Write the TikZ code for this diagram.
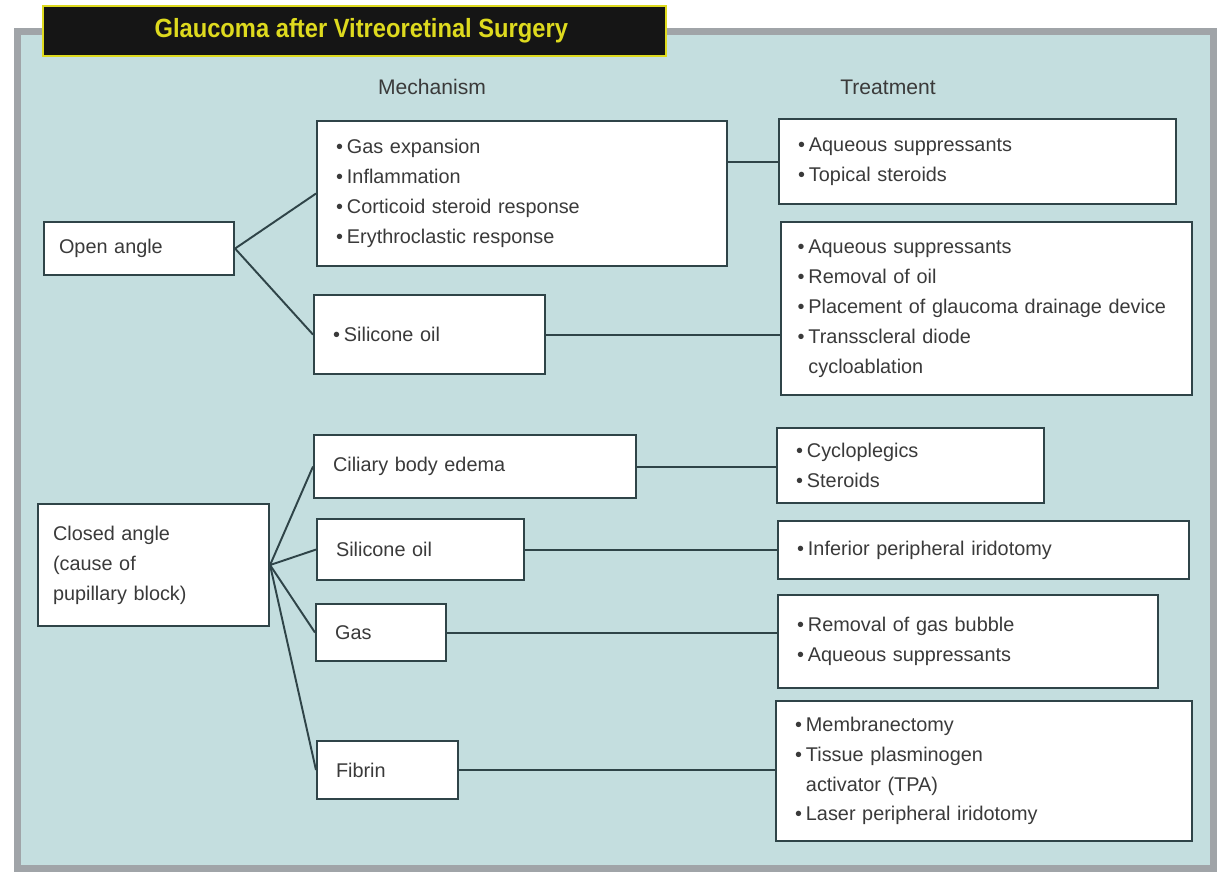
\documentclass[tikz,border=0pt]{standalone}
\usepackage{fontspec}
\setmainfont{Liberation Sans}
\newfontfamily\titlefont[FakeStretch=0.9]{Liberation Sans}
\usetikzlibrary{positioning}
\definecolor{cpanel}{RGB}{196, 222, 223}
\definecolor{cframe}{RGB}{160, 164, 168}
\definecolor{cline}{RGB}{47, 68, 72}
\definecolor{ctext}{RGB}{58, 58, 58}
\definecolor{ctitle}{RGB}{222, 218, 30}
\definecolor{ctitlebg}{RGB}{21, 21, 21}
\newcommand{\bul}{\textbullet\hspace{0.2em}}
\newcommand{\cont}{\phantom{\textbullet}\hspace{0.2em}}
\hyphenpenalty=10000
\tikzset{
	nodes={text=ctext, font={\fontsize{11.3}{17}\selectfont}},%
	box/.style={%
			draw=cline,%
			fill=white,%
			line width=1.2pt,%
			anchor=north west,%
			align=left,%
			inner xsep=0.38cm,%
			inner ysep=0pt},%
	headbox/.style={%
			box,%
			inner xsep=0.3cm},%
	conn/.style={%
			draw=cline,%
			line width=1.1pt},%
	colhead/.style={%
			font={\fontsize{12}{14}\selectfont}},%
}

\begin{document}
\begin{tikzpicture}[x=0.02cm, y=-0.02cm]%
	\useasboundingbox (0,0) rectangle (1217,872);
	\fill[white] (0,0) rectangle (1217,872);
	\draw[cframe, fill=cpanel, line width=0.14cm] (17.5,31.5) rectangle (1213,868.5);

	\node[fill=ctitlebg, draw=ctitle, line width=1pt, minimum width=12.46cm, minimum height=1cm, anchor=north west,
		text=ctitle, font={\titlefont\bfseries\fontsize{15}{17}\selectfont}] (title) at (42,5) {\hspace*{0.28cm}Glaucoma after Vitreoretinal Surgery};

	\node[colhead] (hmech) at (432,87) {Mechanism};
	\node[colhead] (htreat) at (888,87) {Treatment};

	% open angle branch
	\node[headbox, text width=3.2cm, minimum height=1.06cm] (open) at (43,221) {Open angle};
	\node[box, text width=7.44cm, minimum height=2.9cm] (mgas) at (316,120) {\bul Gas expansion\\\bul Inflammation\\\bul Corticoid steroid response\\\bul Erythroclastic response};
	\node[box, text width=3.86cm, minimum height=1.58cm] (msil) at (313,294) {\bul Silicone oil};
	\node[box, text width=7.18cm, minimum height=1.7cm] (tsupp) at (778,118) {\bul Aqueous suppressants\\\bul Topical steroids};
	\node[box, text width=7.56cm, minimum height=3.46cm, inner xsep=0.33cm] (toil) at (780,221) {\bul Aqueous suppressants\\\bul Removal of oil\\\bul Placement of glaucoma drainage device\\\bul Transscleral diode\\\cont cycloablation};

	% closed angle branch
	\node[headbox, text width=4.02cm, minimum height=2.44cm] (closed) at (37,503) {Closed angle\\(cause of\\pupillary block)};
	\node[box, text width=5.68cm, minimum height=1.26cm] (mcil) at (313,434) {Ciliary body edema};
	\node[box, text width=3.38cm, minimum height=1.22cm] (msil2) at (316,518) {Silicone oil};
	\node[box, text width=1.84cm, minimum height=1.14cm] (mgas2) at (315,603) {Gas};
	\node[box, text width=2.06cm, minimum height=1.16cm] (mfib) at (316,740) {Fibrin};
	\node[box, text width=4.58cm, minimum height=1.5cm] (tcyc) at (776,427) {\bul Cycloplegics\\\bul Steroids};
	\node[box, text width=7.46cm, minimum height=1.16cm] (tiri) at (777,520) {\bul Inferior peripheral iridotomy};
	\node[box, text width=6.84cm, minimum height=1.86cm] (tbub) at (777,594) {\bul Removal of gas bubble\\\bul Aqueous suppressants};
	\node[box, text width=7.56cm, minimum height=2.8cm] (tfib) at (775,700) {\bul Membranectomy\\\bul Tissue plasminogen\\\cont activator (TPA)\\\bul Laser peripheral iridotomy};

	\draw[conn] (open.east) -- (mgas.west);
	\draw[conn] (open.east) -- (msil.west);
	\draw[conn] (mgas.east |- tsupp.west) -- (tsupp.west);
	\draw[conn] (msil.east) -- (toil.west |- msil.east);

	\draw[conn] (closed.east) -- (mcil.west);
	\draw[conn] (closed.east) -- (msil2.west);
	\draw[conn] (closed.east) -- (mgas2.west);
	\draw[conn] (closed.east) -- (mfib.west);
	\draw[conn] (mcil.east) -- (tcyc.west |- mcil.east);
	\draw[conn] (msil2.east) -- (tiri.west |- msil2.east);
	\draw[conn] (mgas2.east) -- (tbub.west |- mgas2.east);
	\draw[conn] (mfib.east) -- (tfib.west |- mfib.east);
\end{tikzpicture}
\end{document}
